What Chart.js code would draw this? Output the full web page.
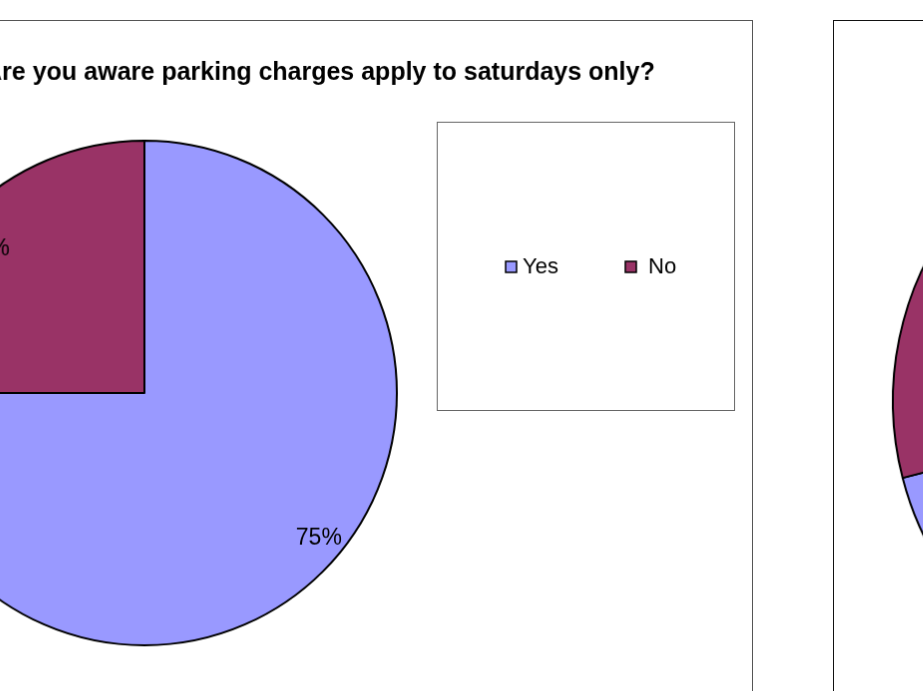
<!DOCTYPE html>
<html>
<head>
<meta charset="utf-8">
<script src="https://cdn.jsdelivr.net/npm/chart.js@4.4.0/dist/chart.umd.min.js"></script>
<style>
    html, body { margin: 0; padding: 0; overflow: hidden; background: #fff; width: 923px; height: 691px; }
    canvas { position: absolute; background: #fff; }
    #awareChart { left: -114px; top: 20px; border: 1px solid #555; }
    #secondChart { left: 833px; top: 20px; border: 1px solid #111; }
</style>
</head>
<body>
<canvas id="awareChart" width="867" height="740"></canvas>
<canvas id="secondChart" width="800" height="760"></canvas>
<script>
// --- Data ---
const categories = ['Yes', 'No'];
const awareValues = [75, 25];
const secondValues = [71, 29];
const chartTitle = 'Are you aware parking charges apply to saturdays only?';
const sliceColors = ['#9999FF', '#993366'];

const FONT = '"Liberation Sans", Arial, sans-serif';

// title drawn on top, does not take layout space
const titlePlugin = {
    id: 'excelTitle',
    afterDraw(chart, args, opts) {
        if (!opts.text) return;
        const ctx = chart.ctx;
        ctx.save();
        ctx.font = 'bold 25px ' + FONT;
        ctx.fillStyle = '#000';
        ctx.textAlign = 'center';
        ctx.textBaseline = 'alphabetic';
        ctx.fillText(opts.text, chart.width / 2, opts.y);
        ctx.restore();
    }
};

// boxed legend, items on one row
const legendPlugin = {
    id: 'excelLegend',
    afterDraw(chart, args, opts) {
        if (!opts.box) return;
        const ctx = chart.ctx;
        const b = opts.box;
        ctx.save();
        ctx.strokeStyle = '#666';
        ctx.lineWidth = 1;
        ctx.strokeRect(b.x + 0.5, b.y + 0.5, b.w, b.h);
        ctx.font = '22px ' + FONT;
        ctx.textBaseline = 'alphabetic';
        ctx.textAlign = 'left';
        chart.data.labels.forEach((label, i) => {
            const ix = opts.itemX[i];
            ctx.fillStyle = chart.data.datasets[0].backgroundColor[i];
            ctx.fillRect(ix, opts.itemY, 11, 11);
            ctx.strokeStyle = '#000';
            ctx.lineWidth = 1.5;
            ctx.strokeRect(ix, opts.itemY, 11, 11);
            ctx.fillStyle = '#000';
            ctx.fillText(label, ix + opts.textGap[i], opts.itemY + 12);
        });
        ctx.restore();
    }
};

// percent labels inside the slices
const pctPlugin = {
    id: 'pctLabels',
    afterDatasetsDraw(chart, args, opts) {
        if (!opts.show) return;
        const ctx = chart.ctx;
        const values = chart.data.datasets[0].data;
        const meta = chart.getDatasetMeta(0);
        ctx.save();
        ctx.font = '23px ' + FONT;
        ctx.fillStyle = '#000';
        ctx.textAlign = 'center';
        ctx.textBaseline = 'middle';
        meta.data.forEach((arc, i) => {
            const p = arc.getProps(['x', 'y', 'startAngle', 'endAngle', 'outerRadius'], true);
            const mid = (p.startAngle + p.endAngle) / 2 + opts.turn[i];
            const r = p.outerRadius * opts.ratio[i];
            ctx.fillText(values[i] + '%', p.x + Math.cos(mid) * r, p.y + Math.sin(mid) * r);
        });
        ctx.restore();
    }
};

function makePie(id, values, radius, padding, pluginOpts) {
    return new Chart(document.getElementById(id), {
        type: 'pie',
        data: {
            labels: categories,
            datasets: [{
                data: values,
                backgroundColor: sliceColors,
                borderColor: '#000',
                borderWidth: 2
            }]
        },
        options: {
            responsive: false,
            animation: false,
            radius: radius,
            layout: { padding: padding },
            plugins: Object.assign({
                legend: { display: false },
                tooltip: { enabled: false },
                title: { display: false }
            }, pluginOpts)
        },
        plugins: [titlePlugin, legendPlugin, pctPlugin]
    });
}

makePie('awareChart', awareValues, 253,
    { left: 0, right: 351, top: 100, bottom: 94 },
    {
        excelTitle: { text: chartTitle, y: 59 },
        excelLegend: { box: { x: 551, y: 101, w: 298, h: 289 }, itemX: [620, 740], itemY: 241, textGap: [17, 23] },
        pctLabels: { show: true, ratio: [0.9, 0.845], turn: [-0.09, -0.047] }
    });

makePie('secondChart', secondValues, 310,
    { left: 0, right: 62, top: 60, bottom: 58 },
    {
        excelTitle: {},
        excelLegend: {},
        pctLabels: { show: false }
    });
</script>
</body>
</html>
